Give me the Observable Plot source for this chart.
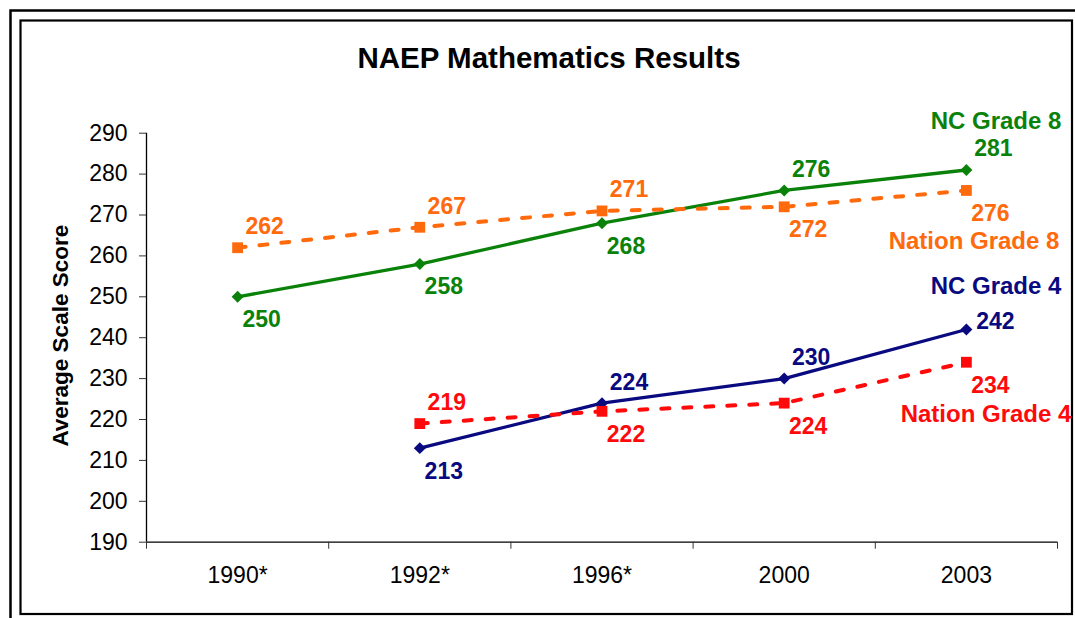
<!DOCTYPE html>
<html>
<head>
<meta charset="utf-8">
<script src="https://cdn.jsdelivr.net/npm/d3@7"></script>
<script src="https://cdn.jsdelivr.net/npm/@observablehq/plot@0.6"></script>
<style>
  html, body { margin: 0; padding: 0; background: #fff; }
  svg { display: block; overflow: visible; }
</style>
</head>
<body>
<div id="chart"></div>
<script>
const years = ["1990*", "1992*", "1996*", "2000", "2003"];
const yTicks = [190, 200, 210, 220, 230, 240, 250, 260, 270, 280, 290];

const ncGrade8     = [250, 258, 268, 276, 281];
const nationGrade8 = [262, 267, 271, 272, 276];
const ncGrade4     = [null, 213, 224, 230, 242];
const nationGrade4 = [null, 219, 222, 224, 234];

// where each value label sits relative to its point
const ncGrade8Place     = ["below", "below", "below", "above", "above"];
const nationGrade8Place = ["above", "above", "above", "below", "below"];
const ncGrade4Place     = [null, "below", "above", "above", "right"];
const nationGrade4Place = [null, "above", "below", "below", "below"];

const seriesNames = ["NC Grade 8", "Nation Grade 8", "NC Grade 4", "Nation Grade 4"];

const series = [
  {name: seriesNames[0], values: ncGrade8, place: ncGrade8Place, color: "#0a820a", dash: null, symbol: "diamond2", r: 5.4, nameDx: 95, nameDy: -49},
  {name: seriesNames[1], values: nationGrade8, place: nationGrade8Place, color: "#ff6a0d", dash: "8,14", symbol: "square", r: 6.1, nameDx: 93, nameDy: 51},
  {name: seriesNames[2], values: ncGrade4, place: ncGrade4Place, color: "#0a0a80", dash: null, symbol: "diamond2", r: 5.4, nameDx: 95, nameDy: -43},
  {name: seriesNames[3], values: nationGrade4, place: nationGrade4Place, color: "#ff0a0a", dash: "8,14", symbol: "square", r: 6.1, nameDx: 105, nameDy: 52}
];

const rows = series.map(s => s.values.map((v, i) => ({series: s.name, i, v, place: s.place[i], color: s.color})));

const font = "'Liberation Sans', Arial, Helvetica, sans-serif";

const marks = [];

// axis lines
marks.push(Plot.ruleY([190], {stroke: "#000", strokeWidth: 1.3}));
marks.push(Plot.ruleX([-0.5], {stroke: "#000", strokeWidth: 1.3}));

// y axis
marks.push(Plot.axisY({ticks: yTicks, tickSize: 7, tickPadding: 12, fontSize: 23, label: null, stroke: "#333"}));
// x axis: boundary ticks and centered labels
marks.push(Plot.axisX({ticks: d3.range(-0.5, 5, 1), tickSize: 7, tickFormat: () => "", label: null, stroke: "#333"}));
marks.push(Plot.axisX({ticks: d3.range(0, 5), tickSize: 0, tickPadding: 24, tickFormat: i => years[i], fontSize: 23, label: null}));

// lines and points
series.forEach((s, k) => {
  const data = rows[k];
  marks.push(Plot.line(data, {
    x: "i", y: "v", stroke: s.color,
    strokeWidth: s.dash ? 4 : 3.3, strokeDasharray: s.dash,
    defined: d => d.v != null
  }));
});
series.forEach((s, k) => {
  const data = rows[k].filter(d => d.v != null);
  marks.push(Plot.dot(data, {x: "i", y: "v", fill: s.color, stroke: null, symbol: s.symbol, r: s.r}));
});

// value labels
const offsets = {above: [27, -21], below: [24, 23], right: [29, -8]};
const allRows = rows.flat().filter(d => d.v != null);
for (const [place, [dx, dy]] of Object.entries(offsets)) {
  marks.push(Plot.text(allRows.filter(d => d.place === place), {
    x: "i", y: "v", text: d => String(d.v), fill: "color",
    dx, dy, fontSize: 23, fontWeight: "bold"
  }));
}

// series names
series.forEach((s, k) => {
  const last = rows[k].filter(d => d.v != null).slice(-1);
  marks.push(Plot.text(last, {
    x: "i", y: "v", text: () => s.name, fill: s.color,
    dx: s.nameDx, dy: s.nameDy, textAnchor: "end", fontSize: 24, fontWeight: "bold"
  }));
});

// title and y label
marks.push(Plot.text(["NAEP Mathematics Results"], {
  frameAnchor: "top", textAnchor: "middle", lineAnchor: "middle",
  dx: -53, dy: -75, fontSize: 29.5, fontWeight: "bold", fill: "#000"
}));
marks.push(Plot.text(["Average Scale Score"], {
  frameAnchor: "left", textAnchor: "middle", lineAnchor: "middle", rotate: -90,
  dx: -86, dy: -2, fontSize: 22.5, fontWeight: "bold", fill: "#000"
}));

const chart = Plot.plot({
  width: 1075,
  height: 618,
  marginLeft: 146,
  marginRight: 18,
  marginTop: 132.7,
  marginBottom: 76.3,
  x: {type: "linear", domain: [-0.5, 4.5], axis: null},
  y: {domain: [190, 290], axis: null},
  color: {type: "identity"},
  style: {fontFamily: font, background: "#fff", color: "#000"},
  marks
});

// double border frame
const svg = d3.select(chart);
svg.insert("rect", ":first-child")
  .attr("x", 10.5).attr("y", 10.5).attr("width", 1100).attr("height", 700)
  .attr("fill", "none").attr("stroke", "#000").attr("stroke-width", 2.5);
svg.insert("rect", ":first-child")
  .attr("x", 20.5).attr("y", 20.5).attr("width", 1051.5).attr("height", 593.5)
  .attr("fill", "none").attr("stroke", "#000").attr("stroke-width", 2.2);
svg.insert("rect", ":first-child")
  .attr("x", 0).attr("y", 0).attr("width", 1075).attr("height", 618).attr("fill", "#fff");

document.getElementById("chart").appendChild(chart);
</script>
</body>
</html>
